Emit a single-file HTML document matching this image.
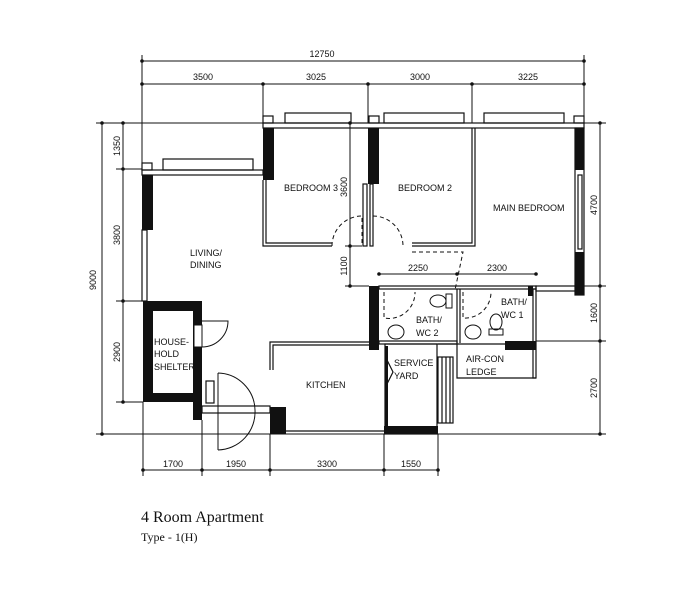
<!DOCTYPE html>
<html><head><meta charset="utf-8"><style>
html,body{margin:0;padding:0;background:#fff;}
svg{display:block}
.s{font-family:"Liberation Sans",sans-serif;fill:#111}
.t{font-family:"Liberation Serif",serif;fill:#111}
</style></head><body>
<svg width="693" height="600" viewBox="0 0 693 600" xmlns="http://www.w3.org/2000/svg">
<g stroke="#111" stroke-width="1" fill="none">
<line x1="142" y1="61" x2="584" y2="61"/>
<line x1="142" y1="84" x2="584" y2="84"/>
<line x1="142" y1="55" x2="142" y2="170"/>
<line x1="584" y1="55" x2="584" y2="123"/>
<line x1="263" y1="84" x2="263" y2="123"/>
<line x1="368" y1="84" x2="368" y2="123"/>
<line x1="472" y1="84" x2="472" y2="123"/>
<line x1="102" y1="123" x2="102" y2="434"/>
<line x1="123" y1="123" x2="123" y2="402"/>
<line x1="96" y1="123" x2="263" y2="123"/>
<line x1="116" y1="169" x2="142" y2="169"/>
<line x1="116" y1="301" x2="143" y2="301"/>
<line x1="116" y1="402" x2="143" y2="402"/>
<line x1="96" y1="434" x2="606" y2="434"/>
<line x1="600" y1="123" x2="600" y2="434"/>
<line x1="584" y1="123" x2="606" y2="123"/>
<line x1="584" y1="286" x2="606" y2="286"/>
<line x1="536" y1="341" x2="606" y2="341"/>
<line x1="350" y1="123" x2="350" y2="286"/>
<line x1="345" y1="246" x2="362" y2="246"/>
<line x1="345" y1="286" x2="369" y2="286"/>
<line x1="379" y1="274" x2="536" y2="274"/>
<line x1="143" y1="470" x2="438" y2="470"/>
<line x1="143" y1="402" x2="143" y2="476"/>
<line x1="202" y1="420" x2="202" y2="476"/>
<line x1="270" y1="434" x2="270" y2="476"/>
<line x1="384" y1="434" x2="384" y2="476"/>
<line x1="438" y1="434" x2="438" y2="476"/>
</g>
<g fill="#111">
<circle cx="142" cy="61" r="1.8"/><circle cx="584" cy="61" r="1.8"/>
<circle cx="142" cy="84" r="1.8"/><circle cx="263" cy="84" r="1.8"/><circle cx="368" cy="84" r="1.8"/><circle cx="472" cy="84" r="1.8"/><circle cx="584" cy="84" r="1.8"/>
<circle cx="102" cy="123" r="1.8"/><circle cx="102" cy="434" r="1.8"/>
<circle cx="123" cy="123" r="1.8"/><circle cx="123" cy="169" r="1.8"/><circle cx="123" cy="301" r="1.8"/><circle cx="123" cy="402" r="1.8"/>
<circle cx="600" cy="123" r="1.8"/><circle cx="600" cy="286" r="1.8"/><circle cx="600" cy="341" r="1.8"/><circle cx="600" cy="434" r="1.8"/>
<circle cx="350" cy="123" r="1.8"/><circle cx="350" cy="246" r="1.8"/><circle cx="350" cy="286" r="1.8"/>
<circle cx="379" cy="274" r="1.8"/><circle cx="457" cy="274" r="1.8"/><circle cx="536" cy="274" r="1.8"/>
<circle cx="143" cy="470" r="1.8"/><circle cx="202" cy="470" r="1.8"/><circle cx="270" cy="470" r="1.8"/><circle cx="384" cy="470" r="1.8"/><circle cx="438" cy="470" r="1.8"/>
</g>
<g stroke="#111" stroke-width="1.2" fill="none">
<rect x="263" y="123" width="321" height="5"/>
<rect x="142" y="170" width="121" height="5"/>
<rect x="285" y="113" width="66" height="10"/>
<rect x="384" y="113" width="80" height="10"/>
<rect x="484" y="113" width="80" height="10"/>
<rect x="163" y="159" width="90" height="11"/>
<rect x="263" y="116" width="10" height="7"/><rect x="369" y="116" width="10" height="7"/><rect x="574" y="116" width="10" height="7"/><rect x="142" y="163" width="10" height="7"/>
<rect x="142" y="230" width="5" height="71"/>
<polyline points="263,180 263,246 332,246"/>
<polyline points="266,180 266,243 332,243"/>
<rect x="363" y="184" width="4" height="62"/>
<rect x="370" y="184" width="3" height="62"/>
<polyline points="412,246 475,246 475,128"/>
<polyline points="412,243 472,243 472,128"/>
<rect x="575" y="128" width="9" height="167"/>
<rect x="578" y="175" width="4" height="74"/>
<rect x="536" y="286" width="44" height="5"/>
<rect x="379" y="286" width="157" height="3"/>
<rect x="379" y="341" width="78" height="3"/>
<line x1="457" y1="289" x2="457" y2="343"/><line x1="460" y1="289" x2="460" y2="343"/>
<rect x="533" y="289" width="3" height="89"/>
<polyline points="438,344 536,344"/>
<polyline points="457,344 457,378 536,378"/>
<rect x="438" y="357" width="15" height="66"/>
<line x1="442" y1="357" x2="442" y2="423"/><line x1="446" y1="357" x2="446" y2="423"/><line x1="450" y1="357" x2="450" y2="423"/>
<rect x="385" y="344" width="52" height="90"/>
<polyline points="387,360 393,372 387,384"/>
<polyline points="270,370 270,342 369,342"/>
<polyline points="273,370 273,345 369,345"/>
<line x1="286" y1="431" x2="385" y2="431"/>
<rect x="206" y="381" width="8" height="22"/>
<rect x="202" y="406" width="68" height="7"/>
</g>
<g fill="#111">
<rect x="142" y="175" width="11" height="55"/>
<rect x="263" y="128" width="11" height="52"/>
<rect x="368" y="128" width="11" height="56"/>
<rect x="575" y="128" width="9" height="42"/>
<rect x="575" y="252" width="9" height="43"/>
<rect x="369" y="286" width="10" height="64"/>
<rect x="505" y="341" width="31" height="9"/>
<rect x="528" y="286" width="5" height="10"/>
<rect x="384" y="426" width="54" height="8"/>
<rect x="270" y="407" width="16" height="27"/>
<path fill-rule="evenodd" d="M143 301H202V402H143Z M153 311V393H193V311Z"/>
<rect x="193" y="372" width="9" height="48"/>
<rect x="385" y="346" width="3" height="86"/>
</g>
<rect x="194" y="325" width="8" height="22" fill="#fff" stroke="#111"/>
<g stroke="#111" stroke-width="1" fill="none">
<path d="M202 347 A26 26 0 0 0 228 321 L202 321"/>
<path d="M218 373 L218 450 M218 373 A38 38 0 0 1 255 410 A38 38 0 0 1 218 450"/>
<g stroke-dasharray="4,3">
<path d="M332 246 A30 30 0 0 1 362 216 L362 246"/>
<path d="M373 216 A30 30 0 0 1 403 246"/>
<path d="M412 252 L463 252 L455 290"/>
<path d="M384 292 L384 318 A26 26 0 0 0 415 292"/>
<path d="M463 292 L463 318 A26 26 0 0 0 491 292"/>
</g>
<ellipse cx="396" cy="332" rx="8" ry="7"/>
<ellipse cx="473" cy="332" rx="8" ry="7"/>
<rect x="446" y="294" width="6" height="14"/><ellipse cx="438" cy="301" rx="8" ry="6"/>
<rect x="489" y="329" width="14" height="6"/><ellipse cx="496" cy="322" rx="6" ry="8"/>
</g>
<g class="s" font-size="9">
<text x="322" y="57" text-anchor="middle">12750</text>
<text x="203" y="80" text-anchor="middle">3500</text>
<text x="316" y="80" text-anchor="middle">3025</text>
<text x="420" y="80" text-anchor="middle">3000</text>
<text x="528" y="80" text-anchor="middle">3225</text>
<text x="418" y="271" text-anchor="middle">2250</text>
<text x="497" y="271" text-anchor="middle">2300</text>
<text x="173" y="467" text-anchor="middle">1700</text>
<text x="236" y="467" text-anchor="middle">1950</text>
<text x="327" y="467" text-anchor="middle">3300</text>
<text x="411" y="467" text-anchor="middle">1550</text>
<g text-anchor="middle">
<text transform="translate(96,280) rotate(-90)">9000</text>
<text transform="translate(120,146) rotate(-90)">1350</text>
<text transform="translate(120,235) rotate(-90)">3800</text>
<text transform="translate(120,352) rotate(-90)">2900</text>
<text transform="translate(597,205) rotate(-90)">4700</text>
<text transform="translate(597,313) rotate(-90)">1600</text>
<text transform="translate(597,388) rotate(-90)">2700</text>
<text transform="translate(347,187) rotate(-90)">3600</text>
<text transform="translate(347,266) rotate(-90)">1100</text>
</g>
<text x="284" y="191">BEDROOM 3</text>
<text x="398" y="191">BEDROOM 2</text>
<text x="493" y="211">MAIN BEDROOM</text>
<text x="190" y="256">LIVING/</text>
<text x="190" y="268">DINING</text>
<text x="154" y="345">HOUSE-</text>
<text x="154" y="357">HOLD</text>
<text x="154" y="370">SHELTER</text>
<text x="306" y="388">KITCHEN</text>
<text x="394" y="366">SERVICE</text>
<text x="394" y="379">YARD</text>
<text x="416" y="323">BATH/</text>
<text x="416" y="336">WC 2</text>
<text x="501" y="305">BATH/</text>
<text x="501" y="318">WC 1</text>
<text x="466" y="362">AIR-CON</text>
<text x="466" y="375">LEDGE</text>
</g>
<text class="t" x="141" y="522" font-size="16">4 Room Apartment</text>
<text class="t" x="141" y="541" font-size="12">Type - 1(H)</text>
</svg>
</body></html>
